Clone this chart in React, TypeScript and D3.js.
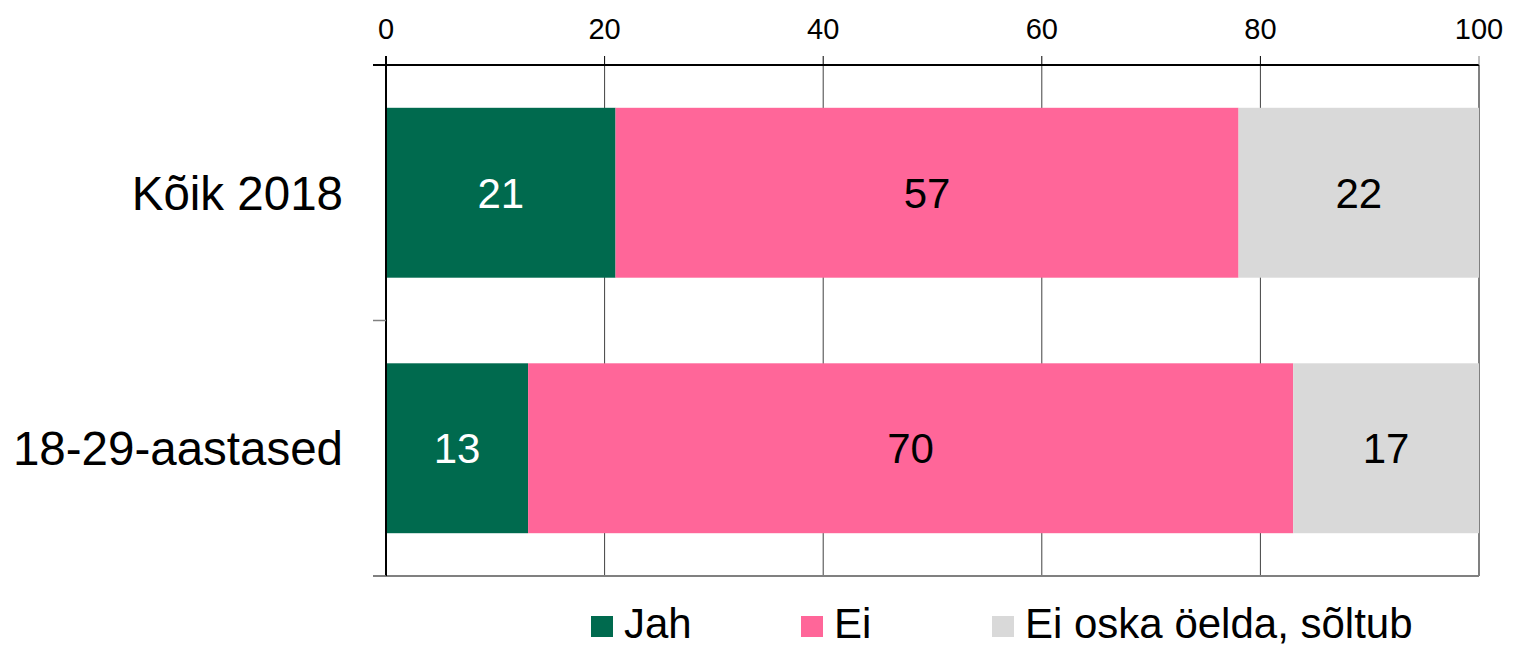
import { useEffect, useRef } from "react";
import * as d3 from "d3";

const categories = ["Kõik 2018", "18-29-aastased"];
const seriesNames = ["Jah", "Ei", "Ei oska öelda, sõltub"];
const jah = [21, 13];
const ei = [57, 70];
const eiOska = [22, 17];
const xTicks = [0, 20, 40, 60, 80, 100];

const COLORS = ["#006a4e", "#ff6699", "#d9d9d9"];
const LABEL_COLORS = ["#ffffff", "#000000", "#000000"];

const WIDTH = 1513;
const HEIGHT = 648;
const FONT = "'Liberation Sans', Arial, sans-serif";

export default function App() {
  const svgRef = useRef<SVGSVGElement>(null);

  useEffect(() => {
    if (!svgRef.current) return;
    const svg = d3.select(svgRef.current);
    svg.selectAll("*").remove();

    const margin = { top: 65, right: 34, bottom: 72, left: 386 };
    const x = d3
      .scaleLinear()
      .domain([0, 100])
      .range([margin.left, WIDTH - margin.right]);
    const y = d3
      .scaleBand<string>()
      .domain(categories)
      .range([margin.top, HEIGHT - margin.bottom])
      .paddingInner(0.335)
      .paddingOuter(0.1675);

    const rows = categories.map((c, i) => ({
      category: c,
      values: [jah[i], ei[i], eiOska[i]],
    }));
    const stacked = d3
      .stack<{ category: string; values: number[] }, number>()
      .keys([0, 1, 2])
      .value((d, k) => d.values[k])(rows);

    const g = svg.append("g").attr("font-family", FONT);
    const x0 = x(0);
    const x1 = x(100);
    const yTop = margin.top;
    const yBot = HEIGHT - margin.bottom;

    // gridlines
    xTicks.slice(1).forEach((t) => {
      g.append("line")
        .attr("x1", x(t))
        .attr("x2", x(t))
        .attr("y1", yTop)
        .attr("y2", yBot)
        .attr("stroke", t === 100 ? "#808080" : "#404040")
        .attr("stroke-width", t === 100 ? 2 : 1);
    });

    // bars
    stacked.forEach((layer, si) => {
      g.append("g")
        .selectAll("rect")
        .data(layer)
        .enter()
        .append("rect")
        .attr("x", (d) => x(d[0]))
        .attr("y", (d) => y(d.data.category)!)
        .attr("width", (d) => x(d[1]) - x(d[0]))
        .attr("height", y.bandwidth())
        .attr("fill", COLORS[si]);

      g.append("g")
        .selectAll("text")
        .data(layer)
        .enter()
        .append("text")
        .attr("x", (d) => (x(d[0]) + x(d[1])) / 2)
        .attr("y", (d) => y(d.data.category)! + y.bandwidth() / 2)
        .attr("dy", "0.36em")
        .attr("text-anchor", "middle")
        .attr("font-size", 42)
        .attr("fill", LABEL_COLORS[si])
        .text((d) => d[1] - d[0]);
    });

    // frame: bottom gray, top & left black
    g.append("line")
      .attr("x1", x0 - 13)
      .attr("x2", x1)
      .attr("y1", yBot)
      .attr("y2", yBot)
      .attr("stroke", "#808080")
      .attr("stroke-width", 2);
    g.append("line")
      .attr("x1", x0 - 13)
      .attr("x2", x1)
      .attr("y1", yTop)
      .attr("y2", yTop)
      .attr("stroke", "#000")
      .attr("stroke-width", 2);
    g.append("line")
      .attr("x1", x0)
      .attr("x2", x0)
      .attr("y1", yTop - 9)
      .attr("y2", yBot)
      .attr("stroke", "#000")
      .attr("stroke-width", 2);

    // category boundary ticks on left axis
    const step = y.step();
    [0, 1, 2].forEach((i) => {
      const yy = yTop + i * step;
      g.append("line")
        .attr("x1", x0 - 13)
        .attr("x2", x0)
        .attr("y1", yy)
        .attr("y2", yy)
        .attr("stroke", i === 0 ? "#000" : "#808080")
        .attr("stroke-width", 1.5);
    });

    // top axis ticks & labels
    xTicks.forEach((t) => {
      g.append("line")
        .attr("x1", x(t))
        .attr("x2", x(t))
        .attr("y1", yTop - 9)
        .attr("y2", yTop)
        .attr("stroke", t === 100 ? "#808080" : "#000")
        .attr("stroke-width", t === 0 ? 2 : 1);
      g.append("text")
        .attr("x", x(t))
        .attr("y", 39)
        .attr("text-anchor", "middle")
        .attr("font-size", 29)
        .attr("fill", "#000")
        .text(t);
    });

    // category labels
    categories.forEach((c) => {
      g.append("text")
        .attr("x", 343)
        .attr("y", y(c)! + y.bandwidth() / 2)
        .attr("dy", "0.36em")
        .attr("text-anchor", "end")
        .attr("font-size", 47.5)
        .attr("fill", "#000")
        .text(c);
    });

    // legend
    const legendX = [591, 801, 992];
    seriesNames.forEach((name, i) => {
      const lg = g.append("g").attr("transform", `translate(${legendX[i]},616)`);
      lg.append("rect")
        .attr("width", 22)
        .attr("height", 21)
        .attr("fill", COLORS[i]);
      lg.append("text")
        .attr("x", 33)
        .attr("y", 22)
        .attr("font-size", 42)
        .attr("fill", "#000")
        .text(name);
    });
  }, []);

  return (
    <div style={{ position: "absolute", left: 0, top: 0 }}>
      <svg
        ref={svgRef}
        width={WIDTH}
        height={HEIGHT}
        style={{ display: "block", background: "#fff" }}
      />
    </div>
  );
}
